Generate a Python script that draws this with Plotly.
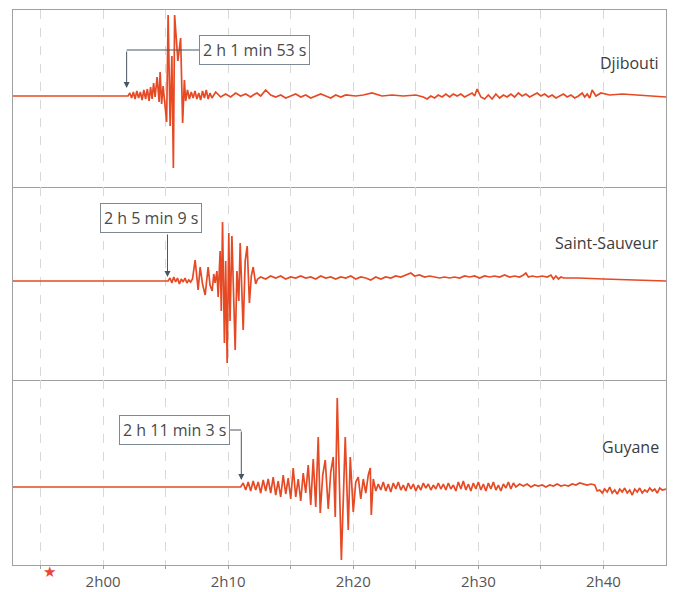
import plotly.graph_objects as go
from plotly.subplots import make_subplots

# ---------------- data (time in minutes after 2h00, amplitude in arbitrary units) ----------------
stations = ["Djibouti", "Saint-Sauveur", "Guyane"]
arrival_labels = ["2 h 1 min 53 s", "2 h 5 min 9 s", "2 h 11 min 3 s"]
arrival_times = [1 + 53 / 60, 5 + 9 / 60, 11 + 3 / 60]
origin_time = -4.3

tick_vals = [-5, 0, 5, 10, 15, 20, 25, 30, 35, 40]
tick_text = ["", "2h00", "", "2h10", "", "2h20", "", "2h30", "", "2h40"]

dj_t = [-7.2, 2.0, 2.14, 2.28, 2.42, 2.56, 2.7, 2.84, 2.98, 3.12,
        3.26, 3.4, 3.54, 3.68, 3.8, 3.92, 4.04, 4.16, 4.32, 4.48,
        4.56, 4.68, 4.8, 5.08, 5.2, 5.36, 5.5, 5.62, 5.72, 5.98,
        6.2, 6.36, 6.5, 6.6, 6.75, 6.9, 7.05, 7.2, 7.35, 7.5,
        7.65, 7.8, 7.95, 8.1, 8.25, 8.4, 8.55, 8.7, 9.0, 9.4,
        9.8, 10.2, 10.6, 11.0, 11.4, 11.8, 12.0, 12.3, 12.6, 13.0,
        13.4, 13.8, 14.2, 14.6, 15.0, 15.4, 15.8, 16.2, 16.6, 17.0,
        17.4, 17.8, 18.2, 18.6, 19.0, 19.4, 20.2, 20.8, 21.5, 22.3,
        23.1, 24.0, 25.0, 25.3, 25.6, 25.9, 26.2, 26.5, 26.8, 27.1,
        27.4, 27.7, 28.0, 28.3, 28.6, 28.9, 29.2, 29.5, 29.7, 29.9,
        30.2, 30.5, 30.8, 31.1, 31.4, 31.7, 32.0, 32.3, 32.6, 32.9,
        33.2, 33.5, 33.8, 34.1, 34.4, 34.7, 35.0, 35.3, 35.6, 35.9,
        36.2, 36.5, 36.8, 37.1, 37.4, 37.7, 38.0, 38.3, 38.5, 38.7,
        38.9, 39.1, 39.4, 39.8, 40.5, 41.5, 42.5, 43.5, 45.0]
dj_a = [0, 0, 3, -2, 4, -3, 5, -2, 4, -4,
        6, -3, 7, -5, 9, -3, 13, -1, 19, -6,
        24, -8, 10, -26, 81, -30, 40, -72, 81, 35,
        58, -27, 16, -5, 6, -3, 4, -2, 5, -3,
        3, -4, 5, -2, 6, -3, 3, -2, 4, -1,
        2, -1, 3, 0, 2, -1, 1, 3, 0, 6,
        1, -1, 1, -2, 0, 2, -1, 1, -2, 0,
        2, 0, -2, 1, -1, 1, 0, 1, 3, 0,
        1, 0, 1, 0, -1, -3, 0, -2, 1, -1,
        2, -1, 2, 0, 2, -1, 1, 3, 0, 7,
        -1, -3, 1, -3, 2, -2, 1, -1, 2, -1,
        3, 0, 2, -1, 1, 3, 0, 2, -1, 1,
        -2, 0, 2, -1, 1, -2, 0, 3, -1, 2,
        -2, 6, 0, 3, 1, 2, 1, 0, -1, -2,
        -3]

ss_t = [-7.2, 5.2, 5.35, 5.5, 5.65, 5.8, 5.95, 6.1, 6.25, 6.4,
        6.55, 6.7, 6.85, 7.0, 7.15, 7.36, 7.6, 7.76, 7.95, 8.16,
        8.4, 8.55, 8.72, 8.85, 8.96, 9.1, 9.2, 9.36, 9.45, 9.55,
        9.7, 9.8, 9.92, 10.05, 10.15, 10.3, 10.56, 10.7, 10.85, 10.96,
        11.2, 11.36, 11.52, 11.7, 11.85, 12.0, 12.2, 12.35, 12.6, 13.0,
        13.4, 13.8, 14.2, 14.6, 15.0, 15.4, 15.8, 16.2, 16.6, 17.0,
        17.4, 17.8, 18.2, 18.6, 19.0, 19.4, 19.8, 20.2, 20.6, 21.0,
        21.4, 21.8, 22.2, 22.6, 23.0, 23.4, 23.8, 24.2, 24.6, 24.9,
        25.3, 25.7, 26.1, 26.5, 26.9, 27.3, 27.7, 28.1, 28.5, 28.9,
        29.3, 29.7, 30.1, 30.5, 30.9, 31.3, 31.7, 32.1, 32.5, 32.9,
        33.3, 33.6, 33.8, 34.0, 34.3, 34.7, 35.1, 35.5, 35.8, 36.0,
        36.2, 36.4, 36.6, 36.8, 38.0, 40.0, 42.0, 45.0]
ss_a = [0, 0, 3, -2, 4, -1, 3, -3, 2, -1,
        3, -2, 1, -1, 2, 21, -9, 14, -3, -14,
        14, -4, -10, 7, -2, 10, -16, 30, -30, 59,
        -62, 20, -82, 48, -40, 45, -69, 10, -20, 38,
        -49, 20, 35, -22, 5, 14, -3, 2, 4, 2,
        5, 3, 5, 2, 4, 3, 5, 3, 4, 2,
        5, 3, 4, 2, 4, 3, 5, 2, 4, 3,
        1, 4, 2, 4, 3, 5, 4, 6, 8, 5,
        6, 4, 5, 4, 3, 4, 3, 4, 3, 5,
        4, 5, 3, 5, 4, 5, 4, 6, 4, 5,
        4, 6, 8, 4, 5, 4, 5, 4, 6, 2,
        5, 2, 4, 3, 3, 2, 1, 0]

gu_t = [-7.2, 11.0, 11.2, 11.4, 11.6, 11.8, 12.0, 12.2, 12.4, 12.6,
        12.8, 13.0, 13.2, 13.4, 13.6, 13.8, 14.0, 14.2, 14.4, 14.6,
        14.8, 15.0, 15.2, 15.4, 15.6, 15.8, 16.0, 16.2, 16.4, 16.6,
        16.8, 17.0, 17.2, 17.36, 17.56, 17.76, 18.0, 18.2, 18.4, 18.56,
        18.72, 19.05, 19.36, 19.6, 19.76, 20.0, 20.2, 20.4, 20.6, 20.8,
        21.0, 21.2, 21.36, 21.44, 21.6, 21.8, 22.0, 22.2, 22.4, 22.6,
        22.8, 23.0, 23.2, 23.4, 23.6, 23.8, 24.0, 24.2, 24.4, 24.6,
        24.8, 25.0, 25.2, 25.4, 25.6, 25.8, 26.0, 26.2, 26.4, 26.6,
        26.8, 27.0, 27.2, 27.4, 27.6, 27.8, 28.0, 28.2, 28.4, 28.6,
        28.8, 29.0, 29.2, 29.4, 29.6, 29.8, 30.0, 30.2, 30.4, 30.6,
        30.8, 31.0, 31.2, 31.4, 31.6, 31.8, 32.0, 32.2, 32.4, 32.6,
        32.8, 33.0, 33.3, 33.6, 33.9, 34.2, 34.5, 34.8, 35.1, 35.4,
        35.7, 36.0, 36.3, 36.6, 36.9, 37.2, 37.5, 37.8, 38.1, 38.4,
        38.7, 39.0, 39.3, 39.5, 39.7, 39.9, 40.1, 40.3, 40.5, 40.7,
        40.9, 41.1, 41.3, 41.5, 41.7, 41.9, 42.1, 42.3, 42.5, 42.7,
        42.9, 43.1, 43.3, 43.5, 43.7, 43.9, 44.1, 44.3, 44.5, 44.7,
        45.0]
gu_a = [0, 0, 4, -3, 5, -4, 6, -3, 5, -6,
        7, -4, 8, -6, 10, -8, 6, -10, 12, -7,
        9, -12, 19, -10, 8, -14, 14, -6, 22, -18,
        28, -20, 50, -26, 12, 27, -22, 15, 30, -30,
        89, -73, 50, -43, 30, -25, 5, 10, -12, 8,
        -6, 12, 19, -28, 8, -4, 3, -3, 5, -4,
        3, -5, 4, -2, 5, -3, 2, -4, 4, -2,
        3, -4, 2, -3, 4, -1, 3, -3, 2, -2,
        4, -2, 3, -3, 4, -2, 2, -4, 5, -2,
        6, -3, 3, -4, 4, -2, 5, -3, 3, -4,
        4, -2, 5, -3, 2, -4, 3, -1, 5, -2,
        4, 0, 3, 1, 3, 0, 2, 1, 2, 0,
        2, 1, 3, 1, 2, 1, 3, 2, 4, 3,
        2, 3, 2, -4, -3, -6, -2, -5, 0, -6,
        -3, -7, -2, -5, -1, -6, -3, -8, -2, -5,
        -1, -6, -3, -5, -1, -4, -2, -6, -1, -3,
        -2]

traces_t = [dj_t, ss_t, gu_t]
traces_a = [dj_a, ss_a, gu_a]

# ---------------- styling ----------------
LINE = "#e64a25"
FRAME = "#a0a0a0"
GRID = "#d8d8d8"
TXT = "#3c3c3c"
ARROW = "#4b5561"
FONT = "Open Sans, Noto Sans, sans-serif"

y_ranges = [[-91, 86], [-99, 94], [-78, 107]]
domains = [[0.6811, 1.0], [0.3333, 0.6811], [0.0, 0.3333]]

fig = make_subplots(rows=3, cols=1, shared_xaxes=True, vertical_spacing=0)

for i in range(3):
    fig.add_trace(go.Scatter(x=traces_t[i], y=traces_a[i], mode="lines",
                             line=dict(color=LINE, width=1.7),
                             hoverinfo="skip", showlegend=False),
                  row=i + 1, col=1)
    xa = "xaxis" if i == 0 else f"xaxis{i+1}"
    ya = "yaxis" if i == 0 else f"yaxis{i+1}"
    fig.layout[xa].update(range=[-7.2, 45], tickvals=tick_vals,
                          ticktext=tick_text if i == 2 else [""] * len(tick_vals),
                          showgrid=True, gridcolor=GRID, griddash="dash", gridwidth=1,
                          showline=True, linecolor=FRAME, linewidth=1.3,
                          mirror=True if i == 0 else False,
                          zeroline=False, automargin=False,
                          ticks="outside" if i == 2 else "", ticklen=3, tickcolor=FRAME,
                          tickfont=dict(family=FONT, size=15, color="#555555"))
    fig.layout[ya].update(range=y_ranges[i], domain=domains[i], showgrid=False,
                          zeroline=False, showticklabels=False, ticks="", automargin=False,
                          showline=True, linecolor=FRAME, linewidth=1.3, mirror=True)

# station names
name_y = [0.70, 0.71, 0.64]
for i in range(3):
    sfx = "" if i == 0 else str(i + 1)
    fig.add_annotation(xref=f"x{sfx} domain", yref=f"y{sfx} domain", x=0.992, y=name_y[i],
                       text=stations[i], showarrow=False, xanchor="right", yanchor="middle",
                       font=dict(family=FONT, size=16, color=TXT))

box = dict(showarrow=False, bgcolor="white", bordercolor="#7d8a96", borderwidth=1,
           borderpad=3, font=dict(family=FONT, size=16, color="#4a4a4a"))

# Djibouti: elbow connector box -> arrow down
t1 = arrival_times[0]
fig.add_shape(type="line", xref="x", yref="y", x0=t1, x1=7.68, y0=46, y1=46,
              line=dict(color=ARROW, width=1))
fig.add_annotation(xref="x", yref="y", x=t1, y=8, ax=t1, ay=46, axref="x", ayref="y",
                   text="", showarrow=True, arrowhead=2, arrowsize=1.2, arrowwidth=1,
                   arrowcolor=ARROW)
fig.add_annotation(xref="x", yref="y", x=7.68, y=46, xanchor="left", yanchor="middle",
                   text=arrival_labels[0], **box)

# Saint-Sauveur: box above, straight arrow down
t2 = arrival_times[1]
fig.add_annotation(xref="x2", yref="y2", x=t2, y=4, ax=t2, ay=48, axref="x2", ayref="y2",
                   text="", showarrow=True, arrowhead=2, arrowsize=1.2, arrowwidth=1,
                   arrowcolor=ARROW)
fig.add_annotation(xref="x2", yref="y2", x=3.84, y=48, xanchor="center", yanchor="bottom",
                   text=arrival_labels[1], **box)

# Guyane: box left, elbow connector right then down
t3 = arrival_times[2]
fig.add_shape(type="line", xref="x3", yref="y3", x0=10.16, x1=t3, y0=57, y1=57,
              line=dict(color=ARROW, width=1))
fig.add_annotation(xref="x3", yref="y3", x=t3, y=7, ax=t3, ay=57, axref="x3", ayref="y3",
                   text="", showarrow=True, arrowhead=2, arrowsize=1.2, arrowwidth=1,
                   arrowcolor=ARROW)
fig.add_annotation(xref="x3", yref="y3", x=10.16, y=57, xanchor="right", yanchor="middle",
                   text=arrival_labels[2], **box)

# earthquake origin star
fig.add_annotation(xref="x3", yref="paper", x=origin_time, y=-0.032, text="★",
                   showarrow=False, font=dict(size=15, color="#e8463a"))

# the page body keeps the browser's default 8 px margin, so the figure is 8 px smaller
fig.update_layout(width=668, height=584, margin=dict(l=5, r=10, t=2, b=27),
                  paper_bgcolor="white", plot_bgcolor="white", showlegend=False)

fig.write_html("out.html")
